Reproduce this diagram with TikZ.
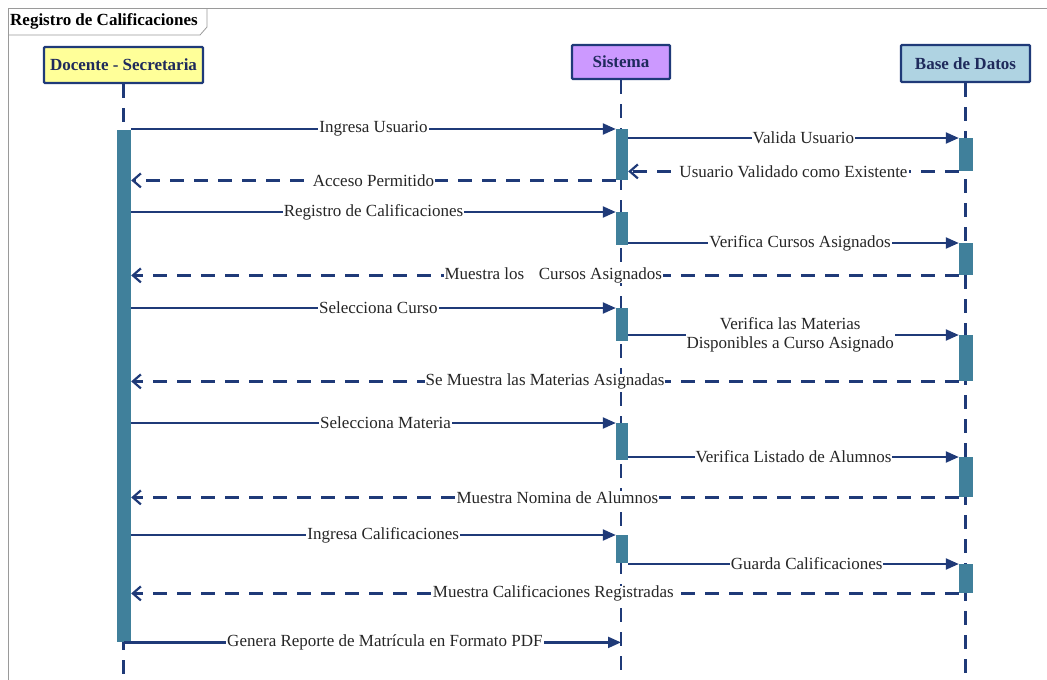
\documentclass[tikz,border=0pt]{standalone}
\usepackage{fontspec}
\setmainfont{Liberation Serif}
\usetikzlibrary{arrows.meta}

\definecolor{ink}{HTML}{1F3A78}
\definecolor{headtext}{HTML}{1F2A5C}
\definecolor{actbar}{HTML}{40809B}
\definecolor{yellowbox}{HTML}{FFFF99}
\definecolor{lilacbox}{HTML}{CC99FF}
\definecolor{bluebox}{HTML}{AFD3E2}
\definecolor{framegray}{HTML}{9A9A9A}

\tikzset{
  actor/.style={draw=ink, line width=2.2pt, rounded corners=1pt, inner sep=0pt,
    font=\fontsize{17}{20}\selectfont\bfseries, text=headtext},
  actbox/.style={fill=actbar, draw=none, inner sep=0pt, anchor=north},
  lifeline/.style={draw=ink, line width=2.4pt, dash pattern=on 14pt off 10pt},
  call/.style={draw=ink, line width=2.2pt, -{Triangle[length=13pt,width=11pt]}},
  reply/.style={draw=ink, line width=2.2pt, dash pattern=on 14pt off 10pt,
    -{Straight Barb[length=8pt,width=14pt]}},
  lbl/.style={fill=white, inner xsep=1pt, inner ysep=0pt, text=black!85,
    font=\fontsize{17}{19}\selectfont},
}

\begin{document}
\begin{tikzpicture}[x=1pt, y=-1pt]
\useasboundingbox (0,0) rectangle (1047,680);

% frame with title tab
\draw[framegray, line width=1pt] (1047,8) -- (8,8) -- (8,680);
\draw[framegray, line width=0.8pt] (8,35) -- (200,35) -- (207,27) -- (207,8);
\node[anchor=west, inner sep=0pt, font=\fontsize{17}{20}\selectfont\bfseries]
  (title) at (10,21) {Registro de Calificaciones};

% participants
\node[actor, fill=yellowbox, minimum width=159pt, minimum height=36pt] (doc) at (123.5,65) {Docente - Secretaria};
\node[actor, fill=lilacbox, minimum width=98pt, minimum height=34pt] (sis) at (621,62) {Sistema};
\node[actor, fill=bluebox, minimum width=129pt, minimum height=37pt] (bd) at (965.5,63.5) {Base de Datos};

% lifelines
\coordinate (docEnd) at (doc.south |- 0,680);
\coordinate (sisEnd) at (sis.south |- 0,680);
\coordinate (bdEnd) at (bd.south |- 0,680);
\draw[lifeline] (doc.south) -- (docEnd);
\draw[lifeline] (sis.south) -- (sisEnd);
\draw[lifeline] (bd.south) -- (bdEnd);

% activation bars
\node[actbox, minimum width=14pt, minimum height=512pt] (dbar) at (124,130) {};
\node[actbox, minimum width=12pt, minimum height=51pt] (s1) at (622,129) {};
\node[actbox, minimum width=12pt, minimum height=33pt] (s2) at (622,212) {};
\node[actbox, minimum width=12pt, minimum height=33pt] (s3) at (622,308) {};
\node[actbox, minimum width=12pt, minimum height=37pt] (s4) at (622,423) {};
\node[actbox, minimum width=12pt, minimum height=28pt] (s5) at (622,535) {};
\node[actbox, minimum width=14pt, minimum height=33pt] (b1) at (966,138) {};
\node[actbox, minimum width=14pt, minimum height=32pt] (b2) at (966,243) {};
\node[actbox, minimum width=14pt, minimum height=46pt] (b3) at (966,335) {};
\node[actbox, minimum width=14pt, minimum height=40pt] (b4) at (966,457) {};
\node[actbox, minimum width=14pt, minimum height=29pt] (b5) at (966,564) {};

% messages
\draw[call] (dbar.east |- s1.north) -- node[lbl] {Ingresa Usuario} (s1.north west);
\draw[call] (s1.east |- b1.north) -- node[lbl, pos=0.53] {Valida Usuario} (b1.north west);
\draw[reply] (b1.south west) -- node[lbl] {Usuario Validado como Existente} (s1.east |- b1.south);
\draw[reply] (s1.south west) -- node[lbl] {Acceso Permitido} (dbar.east |- s1.south);

\draw[call] (dbar.east |- s2.north) -- node[lbl] {Registro de Calificaciones} (s2.north west);
\draw[call] (s2.east |- b2.north) -- node[lbl, pos=0.52] {Verifica Cursos Asignados} (b2.north west);
\draw[reply] (b2.south west) -- node[lbl, pos=0.49] {Muestra los\hspace{0.6em} Cursos Asignados} (dbar.east |- b2.south);

\draw[call] (dbar.east |- s3.north) -- node[lbl, pos=0.51] {Selecciona Curso} (s3.north west);
\draw[call] (s3.east |- b3.north) -- node[lbl, pos=0.49, align=center] {Verifica las Materias\\Disponibles a Curso Asignado} (b3.north west);
\draw[reply] (b3.south west) -- node[lbl] {Se Muestra las Materias Asignadas} (dbar.east |- b3.south);

\draw[call] (dbar.east |- s4.north) -- node[lbl, pos=0.525] {Selecciona Materia} (s4.north west);
\draw[call] (s4.east |- b4.north) -- node[lbl] {Verifica Listado de Alumnos} (b4.north west);
\draw[reply] (b4.south west) -- node[lbl, pos=0.485] {Muestra Nomina de Alumnos} (dbar.east |- b4.south);

\draw[call] (dbar.east |- s5.north) -- node[lbl, pos=0.52] {Ingresa Calificaciones} (s5.north west);
\draw[call] (s5.east |- b5.north) -- node[lbl, pos=0.54] {Guarda Calificaciones} (b5.north west);
\draw[reply] (b5.south west) -- node[lbl, pos=0.49] {Muestra Calificaciones Registradas} (dbar.east |- b5.south);

\draw[call] (dbar.south) -- node[lbl, pos=0.525] {Genera Reporte de Matrícula en Formato PDF} (sis.south |- dbar.south);
\end{tikzpicture}
\end{document}
